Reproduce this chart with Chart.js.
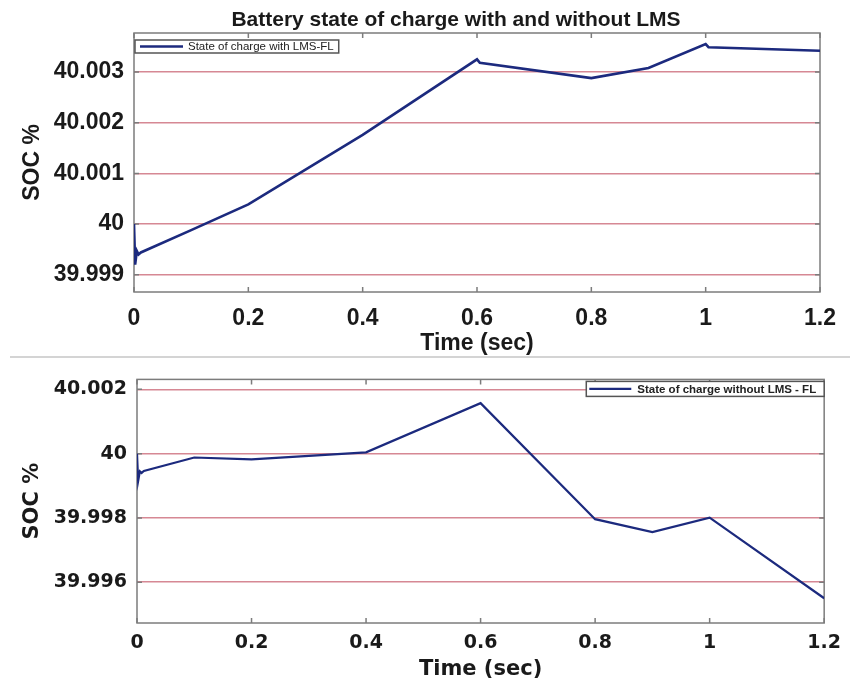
<!DOCTYPE html>
<html>
<head>
<meta charset="utf-8">
<script src="https://cdn.jsdelivr.net/npm/chart.js@4.4.1/dist/chart.umd.min.js"></script>
<style>
  html, body { margin: 0; padding: 0; background: #ffffff; }
  body { width: 850px; height: 684px; position: relative; overflow: hidden; }
  #title {
    position: absolute; top: 8px; left: 156px; width: 600px;
    text-align: center; font-family: "Liberation Sans", Arial, sans-serif;
    font-weight: bold; font-size: 21px; line-height: 21px; color: #1a1a1a; white-space: nowrap;
  }
  #top { position: absolute; left: 0; top: 0; width: 850px; height: 358px; }
  #sep { position: absolute; left: 10px; top: 356px; width: 840px; height: 2px; background: #d4d4d4; }
  #bottom { position: absolute; left: 0; top: 358px; width: 850px; height: 326px; }
</style>
</head>
<body>
<div id="top"><canvas id="c1"></canvas></div>
<div id="sep"></div>
<div id="bottom"><canvas id="c2"></canvas></div>
<div id="title">Battery state of charge with and without LMS</div>
<script>
// ---- data ----
const xTicks = [0, 0.2, 0.4, 0.6, 0.8, 1, 1.2];

const timeWith = [0, 0.002, 0.005, 0.008, 0.012, 0.1, 0.2, 0.4, 0.6, 0.605, 0.8, 0.9, 1.0, 1.005, 1.2];
const socWith  = [40.0, 39.99920, 39.99947, 39.99940, 39.99944, 39.99988, 40.00039, 40.00176, 40.00325, 40.00318, 40.00288, 40.00308, 40.00355, 40.00349, 40.00342];
const yTicksWith = [39.999, 40, 40.001, 40.002, 40.003];

const timeWithout = [0, 0.002, 0.005, 0.008, 0.012, 0.1, 0.2, 0.4, 0.6, 0.8, 0.9, 1.0, 1.2];
const socWithout  = [40.0, 39.99915, 39.99945, 39.99940, 39.99946, 39.99988, 39.99982, 40.00004, 40.00157, 39.99796, 39.99756, 39.99801, 39.99550];
const yTicksWithout = [39.996, 39.998, 40, 40.002];

const labelWith = 'State of charge with LMS-FL';
const labelWithout = 'State of charge without LMS - FL';
const xTitle = 'Time (sec)';
const yTitle = 'SOC %';

// ---- styling ----
const lineColor = '#1c2a7e';
const gridColor = 'rgb(214,136,148)';
const frameColor = '#7c7c7c';
const textColor = '#1a1a1a';

const fmt = v => String(Number(Number(v).toFixed(4)));

const framePlugin = {
  id: 'frame',
  beforeDatasetsDraw(chart) {
    const { ctx, chartArea: a, scales } = chart;
    const x = scales.x, y = scales.y;
    ctx.save();
    ctx.strokeStyle = frameColor;
    ctx.lineWidth = 1.5;
    ctx.beginPath();
    x.ticks.forEach(t => {
      const px = x.getPixelForValue(t.value);
      ctx.moveTo(px, a.bottom); ctx.lineTo(px, a.bottom - 5);
      ctx.moveTo(px, a.top); ctx.lineTo(px, a.top + 5);
    });
    y.ticks.forEach(t => {
      const py = y.getPixelForValue(t.value);
      ctx.moveTo(a.left, py); ctx.lineTo(a.left + 5, py);
      ctx.moveTo(a.right, py); ctx.lineTo(a.right - 5, py);
    });
    ctx.stroke();
    ctx.strokeRect(a.left, a.top, a.right - a.left, a.bottom - a.top);
    ctx.restore();
  },
  afterDraw(chart, args, opts) {
    const ctx = chart.ctx, a = chart.chartArea;
    const ds = chart.data.datasets[0];
    ctx.save();
    ctx.font = opts.font;
    const tw = ctx.measureText(ds.label).width;
    const bw = opts.padL + opts.lineLen + opts.gap + tw + opts.padR;
    const bh = opts.height;
    const bx = opts.align === 'end' ? a.right - bw : a.left + 1;
    const by = a.top + opts.dy;
    ctx.fillStyle = '#ffffff';
    ctx.fillRect(bx, by, bw, bh);
    ctx.strokeStyle = '#555555';
    ctx.lineWidth = 1.5;
    ctx.strokeRect(bx, by, bw, bh);
    ctx.strokeStyle = ds.borderColor;
    ctx.lineWidth = ds.borderWidth;
    ctx.beginPath();
    ctx.moveTo(bx + opts.padL, by + bh / 2);
    ctx.lineTo(bx + opts.padL + opts.lineLen, by + bh / 2);
    ctx.stroke();
    ctx.fillStyle = '#222222';
    ctx.textBaseline = 'middle';
    ctx.textAlign = 'left';
    ctx.fillText(ds.label, bx + opts.padL + opts.lineLen + opts.gap, by + bh / 2 + 0.5);
    ctx.restore();
  }
};

function makeChart(canvasId, times, socs, label, yTicks, cfg) {
  const pts = times.map((t, i) => ({ x: t, y: socs[i] }));
  return new Chart(document.getElementById(canvasId), {
    type: 'line',
    data: {
      datasets: [{
        label: label,
        data: pts,
        borderColor: lineColor,
        backgroundColor: lineColor,
        borderWidth: cfg.lineWidth,
        pointRadius: 0,
        tension: 0,
        fill: false
      }]
    },
    options: {
      responsive: true,
      maintainAspectRatio: false,
      devicePixelRatio: 1,
      animation: false,
      layout: { padding: cfg.padding },
      plugins: {
        title: { display: false },
        tooltip: { enabled: false },
        legend: { display: false },
        frame: cfg.legend
      },
      scales: {
        x: {
          type: 'linear',
          min: 0, max: 1.2,
          afterBuildTicks: s => { s.ticks = xTicks.map(v => ({ value: v })); },
          afterFit: s => { s.height = cfg.xHeight; },
          grid: { display: false, drawTicks: false },
          border: { display: false },
          ticks: {
            padding: cfg.xTickPad, color: textColor, autoSkip: false, maxRotation: 0,
            font: cfg.tickFont, callback: v => fmt(v)
          },
          title: {
            display: true, text: xTitle, color: textColor, font: cfg.titleFont,
            padding: { top: 0, bottom: cfg.xTitlePadBottom }
          }
        },
        y: {
          type: 'linear',
          min: cfg.yMin, max: cfg.yMax,
          afterBuildTicks: s => { s.ticks = yTicks.map(v => ({ value: v })); },
          afterFit: s => { s.width = cfg.yWidth; },
          grid: { color: gridColor, lineWidth: 1.5, drawTicks: false },
          border: { display: false },
          ticks: {
            padding: 10, color: textColor, autoSkip: false,
            font: cfg.tickFont, callback: v => fmt(v)
          },
          title: {
            display: true, text: yTitle, color: textColor, font: cfg.titleFont,
            padding: { top: cfg.yTitlePadTop, bottom: 0 }
          }
        }
      }
    },
    plugins: [framePlugin]
  });
}

makeChart('c1', timeWith, socWith, labelWith, yTicksWith, {
  lineWidth: 2.6,
  padding: { left: 0, right: 30, top: 33, bottom: 0 },
  legend: { align: 'start', font: '11.5px "Liberation Sans"', padL: 5, lineLen: 43, gap: 5, padR: 5, height: 13, dy: 7 },
  xHeight: 66,
  xTickPad: 13,
  tickFont: { family: 'Liberation Sans', size: 23, weight: 'bold' },
  titleFont: { family: 'Liberation Sans', size: 23, weight: 'bold' },
  xTitlePadBottom: 1,
  yMin: 39.99866, yMax: 40.00377,
  yWidth: 134,
  yTitlePadTop: 19
});

makeChart('c2', timeWithout, socWithout, labelWithout, yTicksWithout, {
  lineWidth: 2.2,
  padding: { left: 0, right: 24, top: 20, bottom: 0 },
  legend: { align: 'end', font: 'bold 11.5px "Liberation Sans"', padL: 3, lineLen: 42, gap: 6, padR: 8, height: 15, dy: 2 },
  xHeight: 61,
  xTickPad: 9,
  tickFont: { family: 'DejaVu Sans', size: 19, weight: 'bold' },
  titleFont: { family: 'DejaVu Sans', size: 21, weight: 'bold' },
  xTitlePadBottom: 1.4,
  yMin: 39.99473, yMax: 40.00231,
  yWidth: 137,
  yTitlePadTop: 20
});
</script>
</body>
</html>
